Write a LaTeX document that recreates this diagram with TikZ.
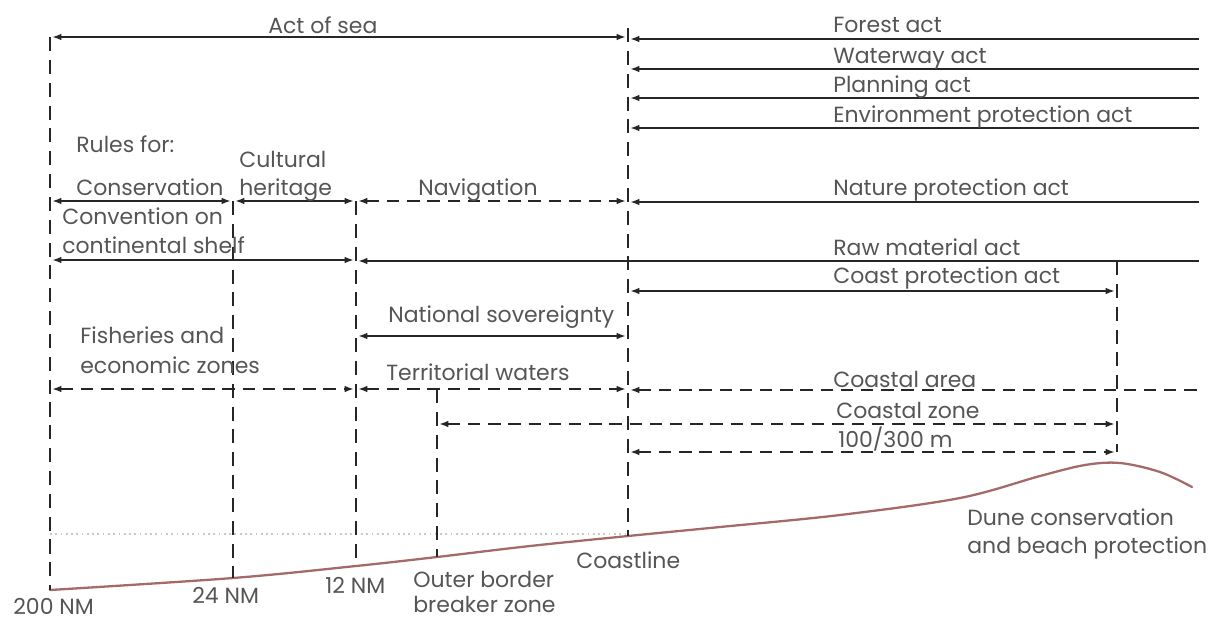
\documentclass[tikz,border=0pt]{standalone}
\usepackage{fontspec}
\setmainfont{Poppins}
\usetikzlibrary{arrows.meta}
\definecolor{ink}{HTML}{262626}
\definecolor{labelgray}{HTML}{555555}
\definecolor{groundred}{HTML}{A46A6A}
\definecolor{waterline}{HTML}{C8C8C8}
\tikzset{
  every picture/.style={font=\fontsize{12.5}{14}\selectfont, >={Latex[length=5pt,width=3.8pt]}},
  lbl/.style={text=labelgray, anchor=base west, inner sep=0pt},
  guide/.style={ink, line width=0.6pt, dash pattern=on 8pt off 5pt},
  dim/.style={<->, ink, line width=0.7pt, shorten <=1.5pt, shorten >=1.5pt},
  dimd/.style={dim, dash pattern=on 7pt off 4.5pt},
  law/.style={<-, ink, line width=0.7pt, shorten <=1.5pt},
  lawd/.style={law, dash pattern=on 7pt off 4.5pt},
  terrain/.style={groundred, line width=1.3pt, line cap=round},
  sealevel/.style={waterline, line width=1pt, dotted},
}
\begin{document}
\begin{tikzpicture}[x=0.02cm, y=-0.02cm]
  \useasboundingbox (0,0) rectangle (1219,619);
  \coordinate (n200) at (50,0);
  \coordinate (n24) at (233,0);
  \coordinate (n12) at (356,0);
  \coordinate (brk) at (437,0);
  \coordinate (cst) at (628,0);
  \coordinate (dune) at (1117,0);
  \coordinate (edge) at (1199,0);
  \foreach \r/\yy in {sea/37, forest/39, water/69, plan/98, env/128, rules/201, nature/202,
      shelf/260, raw/261, cprot/291, sov/336, fish/389, terr/389, area/390, czone/424, hundred/452,
      topc/28, gnd200/590, gnd24/578, gnd12/566, gndbrk/557, gndcst/536}
    \coordinate (r\r) at (0,\yy);
  \draw[sealevel] (n200 |- 0,534) -- (cst |- 0,534);
  \draw[terrain] plot[smooth, tension=0.55] coordinates {(50,590) (233,578) (356,566) (437,557)
    (530,546) (628,536) (720,527) (840,515) (960,498) (1040,476) (1085,465) (1120,463) (1160,472) (1192,487)};
  \draw[guide] (n200 |- rsea) -- (n200 |- rgnd200);
  \draw[guide] (n24 |- rrules) -- (n24 |- rgnd24);
  \draw[guide] (n12 |- rrules) -- (n12 |- rgnd12);
  \draw[guide] (brk |- rterr) -- (brk |- rgndbrk);
  \draw[guide] (cst |- rtopc) -- (cst |- rgndcst);
  \draw[guide] (dune |- rraw) -- (dune |- rhundred);
  \foreach \a/\b/\r in {n200/cst/sea, n200/n24/rules, n24/n12/rules, n200/n12/shelf, n12/cst/sov, cst/dune/cprot}
    \draw[dim] (\a |- r\r) -- (\b |- r\r);
  \foreach \a/\b/\r in {n12/cst/rules, n200/n12/fish, n12/cst/terr, brk/dune/czone, cst/dune/hundred}
    \draw[dimd] (\a |- r\r) -- (\b |- r\r);
  \foreach \a/\r in {cst/forest, cst/water, cst/plan, cst/env, cst/nature, n12/raw}
    \draw[law] (\a |- r\r) -- (edge |- r\r);
  \draw[lawd] (cst |- rarea) -- (edge |- rarea);
  \node[lbl] (lsea) at (268,33) {Act of sea};
  \node[lbl] (lforest) at (833,32) {Forest act};
  \node[lbl] (lwater) at (833,63) {Waterway act};
  \node[lbl] (lplan) at (833,92) {Planning act};
  \node[lbl] (lenv) at (833,122) {Environment protection act};
  \node[lbl] (lrules) at (76,152) {Rules for:};
  \node[lbl] (lcult) at (239,167) {Cultural};
  \node[lbl] (lherit) at (239,195) {heritage};
  \node[lbl] (lcons) at (76,195) {Conservation};
  \node[lbl] (lnav) at (418,195) {Navigation};
  \node[lbl] (lnature) at (833,195) {Nature protection act};
  \node[lbl] (lconv) at (62,224) {Convention on};
  \node[lbl] (lshelf) at (62,253) {continental shelf};
  \node[lbl] (lraw) at (833,255) {Raw material act};
  \node[lbl] (lcprot) at (833,283) {Coast protection act};
  \node[lbl] (lsov) at (388,322) {National sovereignty};
  \node[lbl] (lfish) at (80,343) {Fisheries and};
  \node[lbl] (leco) at (80,373) {economic zones};
  \node[lbl] (lterr) at (386,380) {Territorial waters};
  \node[lbl] (larea) at (833,387) {Coastal area};
  \node[lbl] (lczone) at (836,418) {Coastal zone};
  \node[lbl] (lhundred) at (838,447) {100/300 m};
  \node[lbl] (ldune) at (967,525) {Dune conservation};
  \node[lbl] (lbeach) at (967,553) {and beach protection};
  \node[lbl] (lcoast) at (576,568) {Coastline};
  \node[lbl] (louter) at (413,587) {Outer border};
  \node[lbl] (lbreak) at (413,612) {breaker zone};
  \node[lbl] (l12) at (325,593) {12 NM};
  \node[lbl] (l24) at (192,603) {24 NM};
  \node[lbl] (l200) at (13,614) {200 NM};
\end{tikzpicture}
\end{document}
